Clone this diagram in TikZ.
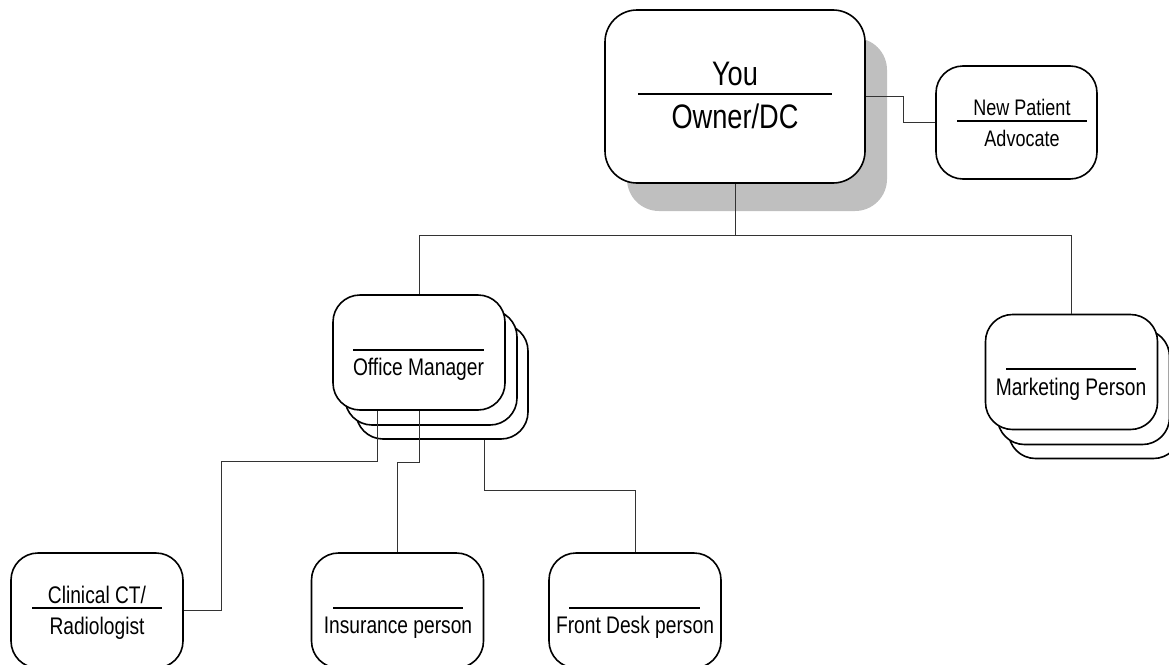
\documentclass[tikz,border=0pt]{standalone}
\usepackage{fontspec}
\setmainfont[FakeStretch=0.8]{Liberation Sans}
\usepackage{tikz}

\tikzset{
  post/.style={draw, line width=1.6pt, rounded corners=27pt, fill=white,
    minimum width=172pt, minimum height=115pt, inner sep=0pt},
  bigpost/.style={post, minimum width=260pt, minimum height=173pt,
    rounded corners=32pt},
  link/.style={draw=black!80, line width=1pt},
  bar/.style={line width=1.8pt},
  title/.style={anchor=base, inner sep=0pt, font=\fontsize{24}{28}\selectfont},
  bigtitle/.style={title, font=\fontsize{34}{40}\selectfont},
}

\begin{document}
\begin{tikzpicture}[x=1pt, y=-1pt]
    \path[use as bounding box, clip] (0,0) rectangle (1169,664);

    % owner, with its shadow
    \node[bigpost, draw=none, fill=black!25](youshadow) at (757,124.5){};
    \node[bigpost](you) at (735,96.5){};
    \node[bigtitle](youname) at (735,85){You};
    \draw [bar] (638,94) -- (832,94);
    \node[bigtitle](yourole) at (735,128){Owner/DC};

    % new patient advocate
    \node[post, minimum width=161pt, minimum height=113pt](advocate) at (1016.5,122.5){};
    \node[title, font=\fontsize{22.5}{26}\selectfont](advocatea) at (1022,115){New Patient};
    \draw [bar] (957,121) -- (1087,121);
    \node[title, font=\fontsize{22.5}{26}\selectfont](advocateb) at (1022,146){Advocate};

    % office manager (stack of three)
    \node[post](mgrback2) at (442,381.5){};
    \node[post](mgrback1) at (431,367.5){};
    \node[post](manager) at (419,352.5){};
    \draw [bar] (353,350) -- (484,350);
    \node[title](managername) at (418.5,375){Office Manager};

    % marketing person (stack of three)
    \node[post](mktback2) at (1094.5,401){};
    \node[post](mktback1) at (1083.5,387){};
    \node[post](marketing) at (1071.5,372){};
    \draw [bar] (1006,369) -- (1136,369);
    \node[title](marketingname) at (1071,395){Marketing Person};

    % clinical CT
    \node[post](clinical) at (97,610.5){};
    \node[title](clinicala) at (97,603){Clinical CT/};
    \draw [bar] (32,608) -- (162,608);
    \node[title](clinicalb) at (97,634){Radiologist};

    % insurance
    \node[post](insurance) at (397.5,610.5){};
    \draw [bar] (333,608) -- (463,608);
    \node[title](insurancename) at (398,633){Insurance person};

    % front desk
    \node[post](frontdesk) at (635,610.5){};
    \draw [bar] (569,608) -- (700,608);
    \node[title](frontdeskname) at (635,633){Front Desk person};

    % links from the owner
    \draw [link] (you.east) -- ++(38,0) |- (advocate.west);
    \draw [link] (you.south) -- ++(0,52) -| (manager.north);
    \draw [link] (you.south) -- ++(0,52) -| (marketing.north);

    % links from the office manager
    \draw [link] ([xshift=-42pt]manager.south) -- ++(0,51) -- ++(-156,0) |- (clinical.east);
    \draw [link] (manager.south) -- ++(0,52) -| (insurance.north);
    \draw [link] ([xshift=42pt]mgrback2.south) -- ++(0,51) -| (frontdesk.north);
\end{tikzpicture}
\end{document}
